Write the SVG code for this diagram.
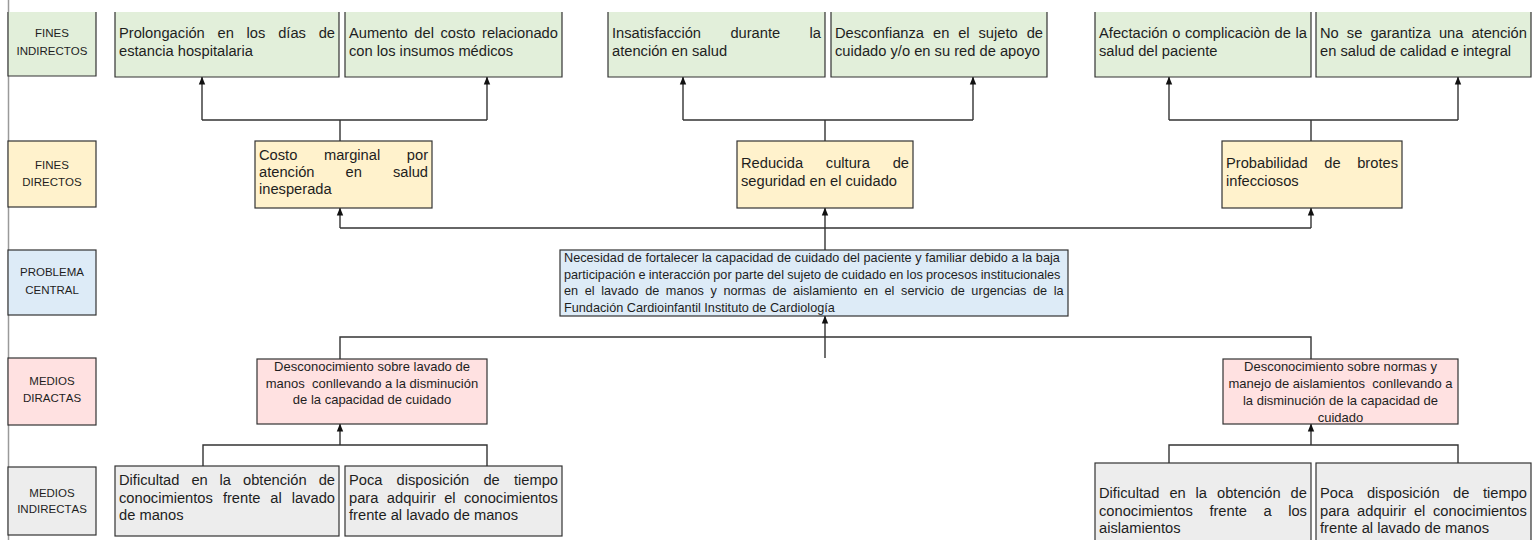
<svg xmlns="http://www.w3.org/2000/svg" width="1532" height="540" viewBox="0 0 1532 540">
<defs>
<style>
text{font-family:"Liberation Sans",Arial,sans-serif;fill:#1e1e1e;font-kerning:none}
.t{font-size:14.7px}
.lbl{font-size:11.5px;text-anchor:middle}
.pc{font-size:12.7px}
.md{font-size:13px;text-anchor:middle}
.bx{stroke:#333;stroke-width:1.2}
.g{fill:#e2efda}.y{fill:#fff2cc}.b{fill:#ddebf7}.p{fill:#ffe1e1}.gr{fill:#ededed}
.open{fill:none;stroke:#333;stroke-width:1.2}
.c{fill:none;stroke:#333;stroke-width:1.4}
</style>
<marker id="ah" viewBox="0 0 10 10" refX="9.5" refY="5" markerWidth="8" markerHeight="8" markerUnits="userSpaceOnUse" orient="auto"><path d="M0,1 L10,5 L0,9 z" fill="#111"/></marker>
</defs>
<rect width="1532" height="540" fill="#fff"/>
<line x1="8.5" y1="0" x2="8.5" y2="540" stroke="#9a9a9a" stroke-width="1.5"/>

<g id="connectors">
<path class="c" d="M340,141 V120 M202,120 H487"/>
<path class="c" d="M202,120 V77" marker-end="url(#ah)"/>
<path class="c" d="M487,120 V77" marker-end="url(#ah)"/>
<path class="c" d="M825,141 V120 M683,120 H973"/>
<path class="c" d="M683,120 V77" marker-end="url(#ah)"/>
<path class="c" d="M973,120 V77" marker-end="url(#ah)"/>
<path class="c" d="M1311,141 V120 M1169,120 H1458"/>
<path class="c" d="M1169,120 V77" marker-end="url(#ah)"/>
<path class="c" d="M1458,120 V77" marker-end="url(#ah)"/>
<path class="c" d="M340,228 H1311"/>
<path class="c" d="M340,228 V208" marker-end="url(#ah)"/>
<path class="c" d="M1311,228 V208" marker-end="url(#ah)"/>
<path class="c" d="M825,250 V208" marker-end="url(#ah)"/>
<path class="c" d="M825,358 V316" marker-end="url(#ah)"/>
<path class="c" d="M340,359 V337 H1311 V359"/>
<path class="c" d="M340,445 V424" marker-end="url(#ah)"/>
<path class="c" d="M203,466 V445 H487 V466"/>
<path class="c" d="M1311,445 V424" marker-end="url(#ah)"/>
<path class="c" d="M1169,463 V445 H1458 V463"/>
</g>

<g id="lbl-fines-indirectos">
<rect class="g" x="8" y="12" width="88" height="64"/>
<path class="open" d="M8,12 V76 H96 V12"/>
<text class="lbl" x="52" y="37">FINES</text>
<text class="lbl" x="52" y="54.5">INDIRECTOS</text>
</g>
<g id="lbl-fines-directos">
<rect class="y bx" x="8" y="141" width="88" height="66"/>
<text class="lbl" x="52" y="169">FINES</text>
<text class="lbl" x="52" y="186">DIRECTOS</text>
</g>
<g id="lbl-problema">
<rect class="b bx" x="8" y="250" width="88" height="65"/>
<text class="lbl" x="52" y="276">PROBLEMA</text>
<text class="lbl" x="52" y="294">CENTRAL</text>
</g>
<g id="lbl-medios-directas">
<rect class="p bx" x="8" y="358" width="88" height="67"/>
<text class="lbl" x="52" y="385">MEDIOS</text>
<text class="lbl" x="52" y="402">DIRACTAS</text>
</g>
<g id="lbl-medios-indirectas">
<rect class="gr bx" x="8" y="467" width="88" height="68"/>
<text class="lbl" x="52" y="496.5">MEDIOS</text>
<text class="lbl" x="52" y="513">INDIRECTAS</text>
</g>

<g id="fi-1">
<rect class="g" x="115" y="12" width="224" height="65"/>
<path class="open" d="M115,12 V77 H339 V12"/>
<text class="t"><tspan x="119" y="38">Prolongación</tspan><tspan x="217.5" y="38">en</tspan><tspan x="246.6" y="38">los</tspan><tspan x="278.2" y="38">días</tspan><tspan x="318.7" y="38">de</tspan></text>
<text class="t" x="119" y="56">estancia hospitalaria</text>
</g>
<g id="fi-2">
<rect class="g" x="345" y="12" width="217" height="65"/>
<path class="open" d="M345,12 V77 H562 V12"/>
<text class="t"><tspan x="349" y="38">Aumento</tspan><tspan x="414.3" y="38">del</tspan><tspan x="440.4" y="38">costo</tspan><tspan x="482" y="38">relacionado</tspan></text>
<text class="t" x="349" y="56">con los insumos médicos</text>
</g>
<g id="fi-3">
<rect class="g" x="608" y="12" width="217" height="65"/>
<path class="open" d="M608,12 V77 H825 V12"/>
<text class="t"><tspan x="612" y="38">Insatisfacción</tspan><tspan x="730.4" y="38">durante</tspan><tspan x="809.6" y="38">la</tspan></text>
<text class="t" x="612" y="56">atención en salud</text>
</g>
<g id="fi-4">
<rect class="g" x="831" y="12" width="216" height="65"/>
<path class="open" d="M831,12 V77 H1047 V12"/>
<text class="t"><tspan x="835" y="38">Desconfianza</tspan><tspan x="933" y="38">en</tspan><tspan x="958.2" y="38">el</tspan><tspan x="978.5" y="38">sujeto</tspan><tspan x="1026.7" y="38">de</tspan></text>
<text class="t" x="835" y="56">cuidado y/o en su red de apoyo</text>
</g>
<g id="fi-5">
<rect class="g" x="1095" y="12" width="216" height="65"/>
<path class="open" d="M1095,12 V77 H1311 V12"/>
<text class="t"><tspan x="1099" y="38">Afectación</tspan><tspan x="1172.3" y="38">o</tspan><tspan x="1185" y="38">complicaciòn</tspan><tspan x="1274.6" y="38">de</tspan><tspan x="1295.6" y="38">la</tspan></text>
<text class="t" x="1099" y="56">salud del paciente</text>
</g>
<g id="fi-6">
<rect class="g" x="1316" y="12" width="215" height="65"/>
<path class="open" d="M1316,12 V77 H1531 V12"/>
<text class="t"><tspan x="1320" y="38">No</tspan><tspan x="1346.8" y="38">se</tspan><tspan x="1370.4" y="38">garantiza</tspan><tspan x="1438.9" y="38">una</tspan><tspan x="1471.4" y="38">atención</tspan></text>
<text class="t" x="1320" y="56">en salud de calidad e integral</text>
</g>

<g id="fd-1">
<rect class="y bx" x="255" y="141" width="177" height="67"/>
<text class="t"><tspan x="259" y="160">Costo</tspan><tspan x="323.9" y="160">marginal</tspan><tspan x="406.8" y="160">por</tspan></text>
<text class="t"><tspan x="259" y="177">atención</tspan><tspan x="345.6" y="177">en</tspan><tspan x="392.9" y="177">salud</tspan></text>
<text class="t" x="259" y="194">inesperada</text>
</g>
<g id="fd-2">
<rect class="y bx" x="737" y="141" width="176" height="67"/>
<text class="t"><tspan x="741" y="168">Reducida</tspan><tspan x="825.8" y="168">cultura</tspan><tspan x="892.7" y="168">de</tspan></text>
<text class="t" x="741" y="185.5">seguridad en el cuidado</text>
</g>
<g id="fd-3">
<rect class="y bx" x="1222" y="141" width="180" height="67"/>
<text class="t"><tspan x="1226" y="168">Probabilidad</tspan><tspan x="1324.3" y="168">de</tspan><tspan x="1357.2" y="168">brotes</tspan></text>
<text class="t" x="1226" y="185.5">infecciosos</text>
</g>

<g id="problema">
<rect class="b bx" x="560" y="250" width="508" height="66"/>
<text class="pc" x="564" y="262" word-spacing="0.15">Necesidad de fortalecer la capacidad de cuidado del paciente y familiar debido a la baja</text>
<text class="pc" x="564" y="278.5" word-spacing="-0.3">participación e interacción por parte del sujeto de cuidado en los procesos institucionales</text>
<text class="pc" x="564" y="295" word-spacing="3.07">en el lavado de manos y normas de aislamiento en el servicio de urgencias de la</text>
<text class="pc" x="564" y="311.5">Fundación Cardioinfantil Instituto de Cardiología</text>
</g>

<g id="md-1">
<rect class="p bx" x="257" y="359" width="230" height="65"/>
<text class="md" x="372" y="371">Desconocimiento sobre lavado de</text>
<text class="md" x="372" y="387.5" xml:space="preserve">manos  conllevando a la disminución</text>
<text class="md" x="372" y="404">de la capacidad de cuidado</text>
</g>
<g id="md-2">
<rect class="p bx" x="1223" y="359" width="235" height="65"/>
<text class="md" x="1340.5" y="371">Desconocimiento sobre normas y</text>
<text class="md" x="1340.5" y="388" xml:space="preserve">manejo de aislamientos  conllevando a</text>
<text class="md" x="1340.5" y="405">la disminución de la capacidad de</text>
<text class="md" x="1340.5" y="421.5">cuidado</text>
</g>

<g id="mi-1">
<rect class="gr bx" x="115" y="466" width="224" height="70"/>
<text class="t"><tspan x="119" y="485">Dificultad</tspan><tspan x="191.4" y="485">en</tspan><tspan x="219.6" y="485">la</tspan><tspan x="243" y="485">obtención</tspan><tspan x="318.7" y="485">de</tspan></text>
<text class="t"><tspan x="119" y="502.5">conocimientos</tspan><tspan x="222.9" y="502.5">frente</tspan><tspan x="270.3" y="502.5">al</tspan><tspan x="291.7" y="502.5">lavado</tspan></text>
<text class="t" x="119" y="520">de manos</text>
</g>
<g id="mi-2">
<rect class="gr bx" x="345" y="466" width="217" height="70"/>
<text class="t"><tspan x="349" y="485">Poca</tspan><tspan x="396.6" y="485">disposición</tspan><tspan x="483.4" y="485">de</tspan><tspan x="513.9" y="485">tiempo</tspan></text>
<text class="t"><tspan x="349" y="502.5">para</tspan><tspan x="386.8" y="502.5">adquirir</tspan><tspan x="444.2" y="502.5">el</tspan><tspan x="464" y="502.5">conocimientos</tspan></text>
<text class="t" x="349" y="520">frente al lavado de manos</text>
</g>
<g id="mi-3">
<rect class="gr bx" x="1095" y="463" width="216" height="82"/>
<text class="t"><tspan x="1099" y="498">Dificultad</tspan><tspan x="1169.4" y="498">en</tspan><tspan x="1195.6" y="498">la</tspan><tspan x="1217" y="498">obtención</tspan><tspan x="1290.6" y="498">de</tspan></text>
<text class="t"><tspan x="1099" y="515.5">conocimientos</tspan><tspan x="1209.4" y="515.5">frente</tspan><tspan x="1263.5" y="515.5">a</tspan><tspan x="1288.2" y="515.5">los</tspan></text>
<text class="t" x="1099" y="533">aislamientos</text>
</g>
<g id="mi-4">
<rect class="gr bx" x="1316" y="463" width="215" height="82"/>
<text class="t"><tspan x="1320" y="498">Poca</tspan><tspan x="1366.9" y="498">disposición</tspan><tspan x="1453.1" y="498">de</tspan><tspan x="1482.9" y="498">tiempo</tspan></text>
<text class="t"><tspan x="1320" y="515.5">para</tspan><tspan x="1357.1" y="515.5">adquirir</tspan><tspan x="1413.9" y="515.5">el</tspan><tspan x="1433" y="515.5">conocimientos</tspan></text>
<text class="t" x="1320" y="533">frente al lavado de manos</text>
</g>
</svg>
